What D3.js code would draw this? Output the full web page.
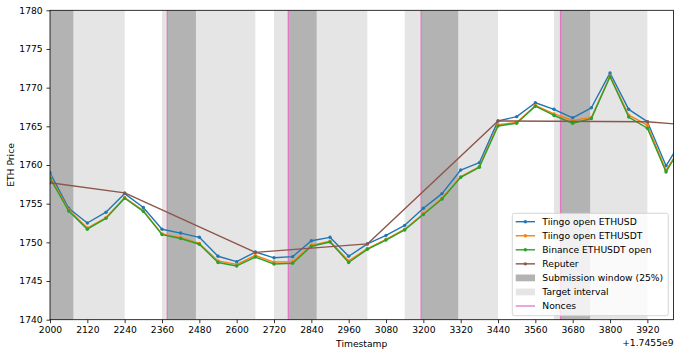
<!DOCTYPE html>
<html><head><meta charset="utf-8">
<script src="https://cdn.jsdelivr.net/npm/d3@7"></script>
<style>
body{margin:0;background:#fff}
svg{display:block}
text{font-family:"DejaVu Sans",sans-serif;fill:#000}
</style>
</head><body>
<svg id="c" width="679" height="355"></svg>
<script>
// timestamps are offsets from 1.7455e9
const timestamps = [2000,2060,2120,2180,2240,2300,2360,2420,2480,2540,2600,2660,2720,2780,2840,2900,2960,3020,3080,3140,3200,3260,3320,3380,3440,3500,3560,3620,3680,3740,3800,3860,3920,3980,4040];
const tiingoUSD = [1759.0,1754.4,1752.5,1753.9,1756.3,1754.5,1751.7,1751.2,1750.65,1748.2,1747.5,1748.75,1748.0,1748.15,1750.2,1750.65,1748.2,1749.8,1750.9,1752.2,1754.4,1756.3,1759.35,1760.3,1765.7,1766.25,1768.05,1767.2,1766.1,1767.4,1771.9,1767.2,1765.6,1759.9,1763.8];
const tiingoUSDT = [1758.5,1754.2,1751.85,1753.2,1755.8,1754.1,1751.1,1750.6,1749.85,1747.6,1747.15,1748.3,1747.45,1747.5,1749.6,1750.15,1747.6,1749.2,1750.4,1751.7,1753.7,1755.7,1758.5,1759.8,1765.2,1765.5,1767.7,1766.6,1765.75,1766.15,1771.5,1766.45,1765.15,1759.3,1763.2];
const binanceUSDT = [1758.3,1754.05,1751.7,1753.1,1755.7,1754.0,1751.0,1750.5,1749.75,1747.4,1746.95,1748.1,1747.2,1747.3,1749.5,1750.05,1747.4,1749.1,1750.3,1751.6,1753.6,1755.6,1758.4,1759.7,1765.05,1765.4,1767.6,1766.4,1765.4,1766.0,1771.4,1766.2,1764.75,1759.1,1763.1];
const reputerTimes = [2000,2240,2660,3020,3440,3920,4040];
const reputerValues = [1757.7,1756.4,1748.7,1749.8,1765.7,1765.6,1765.2];
const targetStarts = [1940,2360,2720,3140,3620];
const targetEnds = [2240,2660,3020,3440,3920];
const windowStarts = [2000,2377,2766,3193,3641];
const windowEnds = [2075,2469,2857,3312,3736];
const nonces = [2377,2766,3193,3641];
const xTicks = [2000,2120,2240,2360,2480,2600,2720,2840,2960,3080,3200,3320,3440,3560,3680,3800,3920];
const yTicks = [1740,1745,1750,1755,1760,1765,1770,1775,1780];
const seriesNames = ["Tiingo open ETHUSD","Tiingo open ETHUSDT","Binance ETHUSDT open","Reputer"];
const bandNames = ["Submission window (25%)","Target interval"];
const nonceName = "Nonces";

const colors = ["#1f77b4","#ff7f0e","#2ca02c","#8c564b"];
const darkGray = "#b3b3b3", lightGray = "#e5e5e5", pink = "#e377c2";

const L = 50, R = 673.5, T = 10.3, B = 319.7;
const x = d3.scaleLinear().domain([2000, 4004]).range([L, R]);
const y = d3.scaleLinear().domain([1740, 1780]).range([B, T]);

const svg = d3.select("#c");
svg.append("defs").append("clipPath").attr("id","clip")
  .append("rect").attr("x",L).attr("y",T).attr("width",R-L).attr("height",B-T);
const g = svg.append("g").attr("clip-path","url(#clip)");

// target intervals
g.selectAll(".tgt").data(targetStarts).join("rect")
  .attr("x", (d)=>x(d)).attr("y",T)
  .attr("width",(d,i)=>x(targetEnds[i])-x(d)).attr("height",B-T)
  .attr("fill",lightGray);
// submission windows
g.selectAll(".win").data(windowStarts).join("rect")
  .attr("x", (d)=>x(d)).attr("y",T)
  .attr("width",(d,i)=>x(windowEnds[i])-x(d)).attr("height",B-T)
  .attr("fill",darkGray);
// nonces
g.selectAll(".nonce").data(nonces).join("line")
  .attr("x1",d=>x(d)).attr("x2",d=>x(d)).attr("y1",T).attr("y2",B)
  .attr("stroke",pink).attr("stroke-width",1.3);

const line = d3.line().x(d=>x(d[0])).y(d=>y(d[1]));
const series = [
  {t:timestamps, v:tiingoUSD, c:colors[0]},
  {t:timestamps, v:tiingoUSDT, c:colors[1]},
  {t:timestamps, v:binanceUSDT, c:colors[2]},
  {t:reputerTimes, v:reputerValues, c:colors[3]}
];
series.forEach(s=>{
  const pts = s.t.map((t,i)=>[t,s.v[i]]);
  g.append("path").attr("d",line(pts)).attr("fill","none")
    .attr("stroke",s.c).attr("stroke-width",1.4).attr("stroke-linejoin","round");
  g.selectAll(null).data(pts).join("circle")
    .attr("cx",d=>x(d[0])).attr("cy",d=>y(d[1])).attr("r",1.7).attr("fill",s.c);
});

// axes
const xAxis = svg.append("g").attr("transform",`translate(0,${B})`)
  .call(d3.axisBottom(x).tickValues(xTicks).tickFormat(d3.format("d")).tickSize(3.5).tickSizeOuter(0).tickPadding(3.4));
const yAxis = svg.append("g").attr("transform",`translate(${L},0)`)
  .call(d3.axisLeft(y).tickValues(yTicks).tickFormat(d3.format("d")).tickSize(3.5).tickSizeOuter(0).tickPadding(3.8));
[xAxis,yAxis].forEach(a=>{
  a.select(".domain").remove();
  a.selectAll("text").attr("font-size","9.2px").attr("font-family","DejaVu Sans").attr("fill","#000");
  a.selectAll("line").attr("stroke","#000").attr("stroke-width",0.8);
});
svg.append("rect").attr("x",L).attr("y",T).attr("width",R-L).attr("height",B-T)
  .attr("fill","none").attr("stroke","#000").attr("stroke-width",0.8);

svg.append("text").attr("x",(L+R)/2).attr("y",346.5).attr("text-anchor","middle")
  .attr("font-size","9.2px").text("Timestamp");
svg.append("text").attr("x",R).attr("y",346).attr("text-anchor","end")
  .attr("font-size","9.2px").text("+1.7455e9");
svg.append("text").attr("transform",`translate(14,${(T+B)/2}) rotate(-90)`).attr("text-anchor","middle")
  .attr("font-size","9.2px").text("ETH Price");

// legend
const lg = svg.append("g");
lg.append("rect").attr("x",512.3).attr("y",213.3).attr("width",156).attr("height",102.4).attr("rx",2)
  .attr("fill","#fff").attr("fill-opacity",0.8).attr("stroke","#cccccc").attr("stroke-width",0.8);
const entries = [
  {name:seriesNames[0], type:"line", c:colors[0]},
  {name:seriesNames[1], type:"line", c:colors[1]},
  {name:seriesNames[2], type:"line", c:colors[2]},
  {name:seriesNames[3], type:"line", c:colors[3]},
  {name:bandNames[0], type:"patch", c:darkGray},
  {name:bandNames[1], type:"patch", c:lightGray},
  {name:nonceName, type:"plain", c:pink}
];
entries.forEach((e,i)=>{
  const cy = 221.7 + i*14.05;
  if(e.type==="patch"){
    lg.append("rect").attr("x",515.7).attr("y",cy-3.4).attr("width",19.3).attr("height",6.8).attr("fill",e.c);
  } else {
    lg.append("line").attr("x1",515.7).attr("x2",535).attr("y1",cy).attr("y2",cy)
      .attr("stroke",e.c).attr("stroke-width",e.type==="plain"?1.3:1.4);
    if(e.type==="line") lg.append("circle").attr("cx",525.35).attr("cy",cy).attr("r",1.7).attr("fill",e.c);
  }
  lg.append("text").attr("x",542.3).attr("y",cy).attr("dy","0.35em").attr("font-size","9.2px").text(e.name);
});
</script>
</body></html>
